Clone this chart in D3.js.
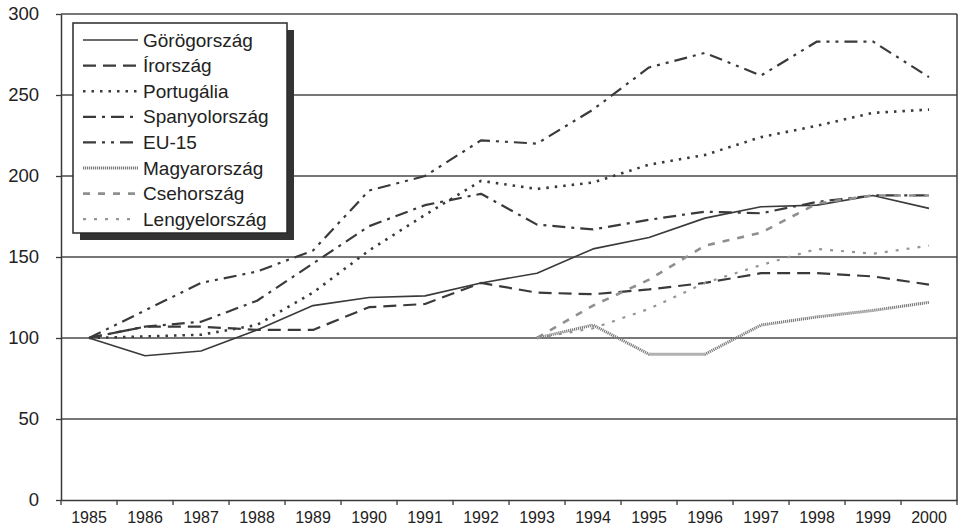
<!DOCTYPE html>
<html>
<head>
<meta charset="utf-8">
<script src="https://cdn.jsdelivr.net/npm/d3@7"></script>
<style>
  html, body { margin: 0; padding: 0; background: #fff; }
  svg { display: block; }
  text { font-family: "Liberation Sans", Arial, sans-serif; fill: #222; }
</style>
</head>
<body>
<svg id="chart" width="962" height="527"></svg>
<script>
const years = ["1985","1986","1987","1988","1989","1990","1991","1992","1993","1994","1995","1996","1997","1998","1999","2000"];
const yTicks = [0, 50, 100, 150, 200, 250, 300];

const greece   = [100, 89, 92, 105, 120, 125, 126, 134, 140, 155, 162, 174, 181, 182, 188, 180];
const ireland  = [100, 107, 107, 105, 105, 119, 121, 134, 128, 127, 130, 134, 140, 140, 138, 133];
const portugal = [100, 101, 102, 108, 128, 154, 176, 197, 192, 196, 207, 213, 224, 231, 239, 241];
const spain    = [100, 107, 110, 123, 146, 169, 182, 189, 170, 167, 173, 178, 177, 184, 188, 188];
const eu15     = [100, 117, 134, 141, 154, 191, 200, 222, 220, 241, 267, 276, 262, 283, 283, 261];
const hungary  = [null, null, null, null, null, null, null, null, 100, 108, 90, 90, 108, 113, 117, 122];
const czech    = [null, null, null, null, null, null, null, null, 100, 120, 136, 157, 165, 183, 188, 188];
const poland   = [null, null, null, null, null, null, null, null, 100, 106, 118, 134, 145, 155, 152, 157];

const seriesNames = ["Görögország", "Írország", "Portugália", "Spanyolország", "EU-15", "Magyarország", "Csehország", "Lengyelország"];
const seriesValues = [greece, ireland, portugal, spain, eu15, hungary, czech, poland];

const styles = [
  { stroke: "#3a3a3a", width: 1.6, dash: null },
  { stroke: "#3a3a3a", width: 2.2, dash: "13,7" },
  { stroke: "#3a3a3a", width: 2.6, dash: "2.5,6" },
  { stroke: "#3a3a3a", width: 2.2, dash: "13,6,3,6" },
  { stroke: "#3a3a3a", width: 2.2, dash: "13,6,3,6,3,6" },
  { stroke: "#7d7d7d", width: 3.0, dash: "1.2,0.8" },
  { stroke: "#8f8f8f", width: 2.6, dash: "7,8" },
  { stroke: "#959595", width: 2.2, dash: "3,8" }
];

const svg = d3.select("#chart");
svg.append("rect").attr("width", 962).attr("height", 527).attr("fill", "#fff");

const pLeft = 61, pRight = 957, pTop = 14, pBottom = 500;
const x = d3.scaleBand().domain(years).range([pLeft, pRight]).padding(0);
const y = d3.scaleLinear().domain([0, 300]).range([pBottom, pTop]);
const cx = d => x(d) + x.bandwidth() / 2;

// gridlines
svg.append("g")
  .selectAll("line").data(yTicks.filter(t => t > 0)).join("line")
  .attr("x1", pLeft).attr("x2", pRight)
  .attr("y1", d => y(d)).attr("y2", d => y(d))
  .attr("stroke", "#4a4a4a").attr("stroke-width", 1.5);

// right border
svg.append("line").attr("x1", pRight).attr("x2", pRight).attr("y1", pTop).attr("y2", pBottom)
  .attr("stroke", "#3a3a3a").attr("stroke-width", 1.5);

// y axis
const yAxis = svg.append("g").attr("transform", `translate(${pLeft},0)`)
  .call(d3.axisLeft(y).tickValues(yTicks).tickSize(5).tickPadding(17).tickSizeOuter(0));
yAxis.select(".domain").attr("stroke", "#3a3a3a").attr("stroke-width", 1.5);
yAxis.selectAll(".tick line").attr("stroke", "#3a3a3a").attr("stroke-width", 1.3);
yAxis.selectAll(".tick text").attr("font-size", 18.5).attr("fill", "#222")
  .attr("font-family", "'Liberation Sans', Arial, sans-serif");

// x axis
const xAxis = svg.append("g").attr("transform", `translate(0,${pBottom})`)
  .call(d3.axisBottom(x).tickSize(0).tickPadding(12).tickSizeOuter(0));
xAxis.select(".domain").attr("stroke", "#3a3a3a").attr("stroke-width", 1.5);
xAxis.selectAll(".tick text").attr("font-size", 16).attr("fill", "#222")
  .attr("font-family", "'Liberation Sans', Arial, sans-serif");
// tick marks between categories
const bounds = years.map(d => x(d)).concat([x(years[years.length - 1]) + x.bandwidth()]);
xAxis.append("g").selectAll("line").data(bounds).join("line")
  .attr("x1", d => d).attr("x2", d => d).attr("y1", 0).attr("y2", 5)
  .attr("stroke", "#3a3a3a").attr("stroke-width", 1.3);

// lines
const line = d3.line()
  .defined(d => d.v !== null)
  .x(d => cx(d.year))
  .y(d => y(d.v));

const linesG = svg.append("g");
seriesValues.forEach((vals, i) => {
  const data = years.map((yr, j) => ({ year: yr, v: vals[j] }));
  const st = styles[i];
  const p = linesG.append("path").datum(data)
    .attr("d", line)
    .attr("fill", "none")
    .attr("stroke", st.stroke)
    .attr("stroke-width", st.width)
    .attr("stroke-linejoin", "round");
  if (st.dash) p.attr("stroke-dasharray", st.dash);
});

// legend
const lg = svg.append("g");
const lx = 73, ly = 23, lw = 214, lh = 210;
lg.append("rect").attr("x", lx + 7).attr("y", ly + 7).attr("width", lw).attr("height", lh)
  .attr("fill", "#333");
lg.append("rect").attr("x", lx).attr("y", ly).attr("width", lw).attr("height", lh)
  .attr("fill", "#fff").attr("stroke", "#2a2a2a").attr("stroke-width", 1.5);
seriesNames.forEach((name, i) => {
  const yy = 40 + i * 25.6;
  const st = styles[i];
  const l = lg.append("line").attr("x1", 83).attr("x2", 138).attr("y1", yy).attr("y2", yy)
    .attr("stroke", st.stroke).attr("stroke-width", st.width);
  if (st.dash) l.attr("stroke-dasharray", st.dash);
  lg.append("text").attr("x", 143).attr("y", yy).attr("dy", "0.35em")
    .attr("font-size", 19).text(name);
});
</script>
</body>
</html>
